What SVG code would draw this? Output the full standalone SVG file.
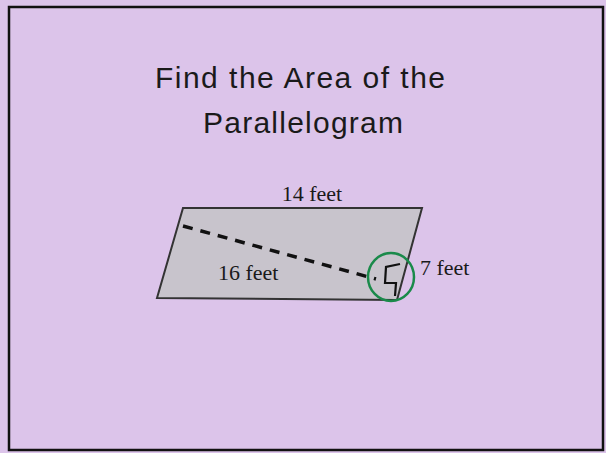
<svg xmlns="http://www.w3.org/2000/svg" width="606" height="453" viewBox="0 0 606 453">
<style>
.title{font-family:"Liberation Sans","DejaVu Sans",sans-serif;font-size:30px;fill:#1a1a1a}
.lbl{font-family:"Liberation Serif","DejaVu Serif",serif;font-size:22px;fill:#1a1a1a}
</style>
<rect x="0" y="0" width="606" height="453" fill="#dcc4ea"/>
<rect x="9" y="7" width="594" height="443" fill="none" stroke="#111" stroke-width="2.5"/>
<g id="title">
<text class="title" x="155" y="88" textLength="290">Find the Area of the</text>
<text class="title" x="203" y="133" textLength="200">Parallelogram</text>
</g>
<g id="parallelogram">
<polygon points="183,208 422,208 397,300 157,298" fill="#c8c4cc" stroke="#333" stroke-width="2"/>
</g>
<g id="connectors">
<line x1="183" y1="226" x2="376" y2="279" stroke="#111" stroke-width="3.5" stroke-dasharray="10,8"/>
<polyline points="400,264 386,267 385,283 396,283 395,296" fill="none" stroke="#111" stroke-width="2.2"/>
<ellipse cx="391" cy="277" rx="23" ry="24" fill="none" stroke="#1a8a4a" stroke-width="2.5"/>
</g>
<g id="labels">
<text class="lbl" x="312" y="201" text-anchor="middle">14 feet</text>
<text class="lbl" x="218" y="280">16 feet</text>
<text class="lbl" x="420" y="275">7 feet</text>
</g>
</svg>
